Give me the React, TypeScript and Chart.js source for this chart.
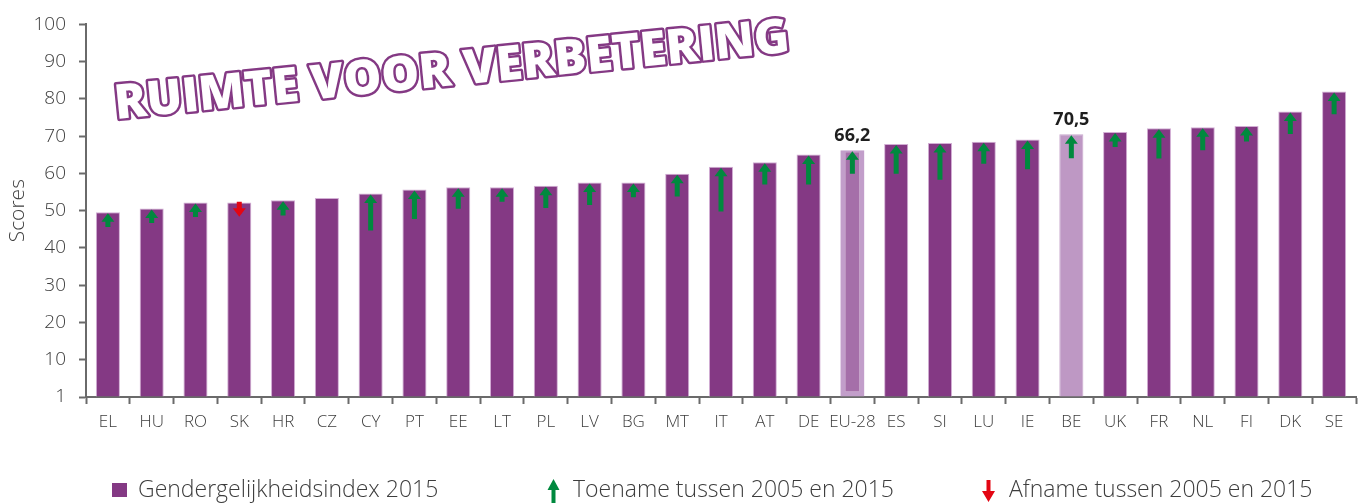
import React, { useEffect, useRef } from 'react';
import { Chart, registerables } from 'chart.js';

Chart.register(...registerables);

// ---------- data ----------
const categories = ['EL', 'HU', 'RO', 'SK', 'HR', 'CZ', 'CY', 'PT', 'EE', 'LT', 'PL', 'LV', 'BG', 'MT', 'IT', 'AT', 'DE', 'EU-28', 'ES', 'SI', 'LU', 'IE', 'BE', 'UK', 'FR', 'NL', 'FI', 'DK', 'SE'];
const scores2015 = [49.6, 50.6, 52.2, 52.2, 52.8, 53.4, 54.6, 55.7, 56.3, 56.3, 56.7, 57.6, 57.6, 59.9, 61.8, 63.0, 65.1, 66.2, 67.9, 68.2, 68.5, 69.1, 70.5, 71.1, 72.1, 72.4, 72.7, 76.6, 82.0];
// arrow (change 2005 -> 2015) drawn from trendFrom to trendTo; null = no arrow
const trendFrom = [45.6, 46.7, 48.3, 52.4, 48.7, null, 44.7, 47.8, 50.5, 52.4, 50.7, 51.5, 53.6, 53.8, 49.8, 57.0, 57.0, 59.9, 59.9, 58.3, 62.6, 61.1, 64.1, 67.1, 64.0, 66.2, 68.6, 70.6, 75.9];
const trendTo = [49.6, 50.6, 52.2, 48.4, 52.8, null, 54.6, 55.7, 56.3, 56.3, 56.7, 57.6, 57.6, 59.9, 61.8, 63.0, 65.1, 66.2, 67.9, 68.2, 68.5, 69.1, 70.5, 71.1, 72.1, 72.4, 72.7, 76.6, 82.0];
const labelledCategories = ['EU-28', 'BE'];
const yTickValues = [0, 10, 20, 30, 40, 50, 60, 70, 80, 90, 100];
const yTickLabels = ['1', '10', '20', '30', '40', '50', '60', '70', '80', '90', '100'];
const yAxisTitle = 'Scores';
const legendLabels = ['Gendergelijkheidsindex 2015', 'Toename tussen 2005 en 2015', 'Afname tussen 2005 en 2015'];
const bannerText = 'RUIMTE VOOR VERBETERING';

// ---------- styles ----------
const FONT = "'Open Sans', sans-serif";
const PURPLE = '#843984';
const PURPLE_BORDER = '#D2AED4';
const LIGHT = '#BE98C4';
const EU_INNER = '#A56FA9';
const EU_BORDER = '#C29ECA';
const GREEN = '#00893E';
const RED = '#E30613';
const AXIS = '#6a6a6a';
const TEXT = '#3d3d3d';

function drawArrow(ctx: CanvasRenderingContext2D, x: number, yTail: number, yTip: number, headW: number, headH: number, shaftW: number, color: string) {
  const dir = yTip < yTail ? -1 : 1;
  const len = Math.abs(yTip - yTail);
  const hh = Math.min(headH, len);
  const base = yTip - dir * hh;
  ctx.save();
  ctx.fillStyle = color;
  ctx.beginPath();
  ctx.moveTo(x, yTip);
  ctx.lineTo(x + headW / 2, base);
  ctx.lineTo(x + shaftW / 2, base);
  ctx.lineTo(x + shaftW / 2, yTail);
  ctx.lineTo(x - shaftW / 2, yTail);
  ctx.lineTo(x - shaftW / 2, base);
  ctx.lineTo(x - headW / 2, base);
  ctx.closePath();
  ctx.fill();
  ctx.restore();
}

const overlayPlugin = {
  id: 'overlay',
  afterDatasetsDraw(chart: any) {
    const ctx: CanvasRenderingContext2D = chart.ctx;
    const meta = chart.getDatasetMeta(0);
    const ys = chart.scales.y;
    meta.data.forEach((bar: any, i: number) => {
      const from = trendFrom[i];
      const to = trendTo[i];
      if (from == null || to == null) return;
      const up = to > from;
      const yFrom = ys.getPixelForValue(from);
      const yTo = ys.getPixelForValue(to) + (up ? 1 : 0);
      drawArrow(ctx, bar.x, yFrom, yTo, 13, 8.5, 5, up ? GREEN : RED);
    });
    // value labels
    ctx.save();
    ctx.font = `bold 18px ${FONT}`;
    ctx.fillStyle = '#1e1e1e';
    ctx.textAlign = 'center';
    ctx.textBaseline = 'alphabetic';
    meta.data.forEach((bar: any, i: number) => {
      if (!labelledCategories.includes(categories[i])) return;
      const txt = scores2015[i].toFixed(1).replace('.', ',');
      ctx.fillText(txt, bar.x, bar.y - 9);
    });
    ctx.restore();
  },
  afterDraw(chart: any) {
    const ctx: CanvasRenderingContext2D = chart.ctx;
    // banner text
    ctx.save();
    ctx.translate(116, 119);
    ctx.rotate((-5.7 * Math.PI) / 180);
    ctx.font = `800 48px ${FONT}`;
    const w = ctx.measureText(bannerText).width;
    ctx.scale(678 / w, 1);
    ctx.textBaseline = 'alphabetic';
    ctx.lineJoin = 'round';
    ctx.lineWidth = 5;
    ctx.strokeStyle = PURPLE;
    ctx.strokeText(bannerText, 0, 0);
    ctx.fillStyle = '#ffffff';
    ctx.fillText(bannerText, 0, 0);
    ctx.restore();

    // legend
    ctx.save();
    ctx.font = `300 23px ${FONT}`;
    ctx.textBaseline = 'alphabetic';
    ctx.textAlign = 'left';
    ctx.fillStyle = PURPLE;
    ctx.fillRect(112, 483, 15, 14);
    ctx.fillStyle = TEXT;
    ctx.fillText(legendLabels[0], 138, 497);
    drawArrow(ctx, 553.5, 503, 479, 12, 11, 4, GREEN);
    ctx.fillStyle = TEXT;
    ctx.fillText(legendLabels[1], 573, 497);
    drawArrow(ctx, 988.5, 480, 502, 13, 11, 4, RED);
    ctx.fillStyle = TEXT;
    ctx.fillText(legendLabels[2], 1009, 497);
    ctx.restore();
  },
};

export default function App() {
  const ref = useRef<HTMLCanvasElement | null>(null);

  useEffect(() => {
    if (!ref.current) return;
    const bg = categories.map((c) => (c === 'EU-28' ? EU_INNER : c === 'BE' ? LIGHT : PURPLE));
    const bc = categories.map((c) => (c === 'EU-28' ? EU_BORDER : c === 'BE' ? '#C7A6CC' : PURPLE_BORDER));
    const bw = categories.map((c) =>
      c === 'EU-28' ? { left: 5, right: 5, top: 2, bottom: 5 } : { left: 1, right: 1, top: 1, bottom: 0 }
    );
    const chart = new Chart(ref.current, {
      type: 'bar',
      data: {
        labels: categories,
        datasets: [
          {
            label: legendLabels[0],
            data: scores2015,
            backgroundColor: bg,
            borderColor: bc,
            borderWidth: bw as any,
            borderSkipped: false,
            barPercentage: 0.55,
            categoryPercentage: 1,
          },
        ],
      },
      options: {
        animation: false,
        responsive: false,
        devicePixelRatio: 1,
        layout: { padding: { left: 0, top: 20, right: 5, bottom: 0 } },
        plugins: {
          legend: { display: false },
          tooltip: { enabled: false },
        },
        scales: {
          x: {
            offset: true,
            grid: { offset: true, drawOnChartArea: false, drawTicks: true, tickLength: 7, tickWidth: 2, tickColor: AXIS },
            border: { color: AXIS, width: 2 },
            ticks: { font: { family: FONT, size: 17, weight: 300 as any }, color: TEXT, padding: 8, maxRotation: 0, autoSkip: false },
            afterFit: (s: any) => {
              s.height = 107;
            },
          },
          y: {
            min: 0,
            max: 100,
            afterBuildTicks: (s: any) => {
              s.ticks = yTickValues.map((v) => ({ value: v }));
            },
            ticks: {
              font: { family: FONT, size: 19, weight: 300 as any },
              color: TEXT,
              padding: 13,
              callback: (v: any) => {
                const idx = yTickValues.indexOf(Number(v));
                return idx >= 0 ? yTickLabels[idx] : '';
              },
            },
            grid: { drawOnChartArea: false, drawTicks: true, tickLength: 7, tickWidth: 2, tickColor: AXIS },
            border: { color: AXIS, width: 2 },
            title: { display: true, text: yAxisTitle, font: { family: FONT, size: 21, weight: 300 as any }, color: TEXT, padding: { top: 5, bottom: 0 } },
            afterFit: (s: any) => {
              s.width = 86;
            },
          },
        },
      },
      plugins: [overlayPlugin],
    });
    return () => chart.destroy();
  }, []);

  return (
    <div style={{ position: 'absolute', left: 0, top: 0, width: 1361, height: 504 }}>
      <canvas ref={ref} width={1361} height={504} style={{ display: 'block', width: 1361, height: 504 }} />
    </div>
  );
}
